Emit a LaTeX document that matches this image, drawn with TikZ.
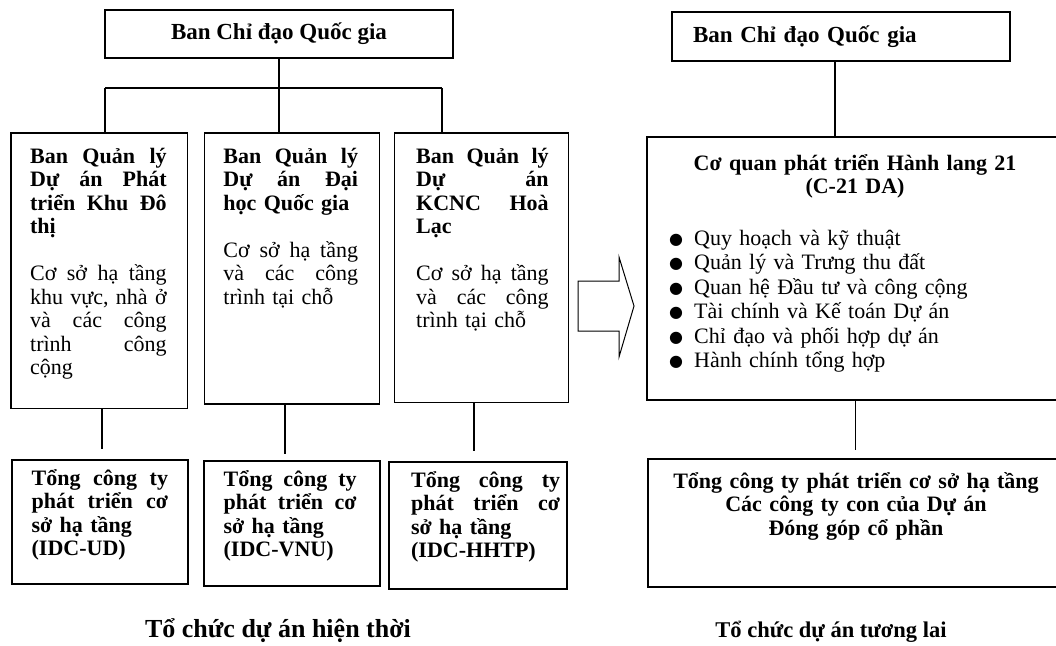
\documentclass[tikz,border=0pt]{standalone}
\usepackage{fontspec}
\setmainfont{Liberation Serif}
\newfontfamily\dotfont{DejaVu Sans}
\usetikzlibrary{positioning}
\tikzset{box/.style={draw, line width=1.1pt, inner sep=0pt},
%text blocks sit on their first baseline
txt/.style={inner sep=0pt, anchor=base west, align=left, font=\fontsize{22}{23.5}\selectfont\bfseries},
link/.style={line width=1.4pt}}
\newcommand{\dotitem}{\makebox[25pt][l]{\raisebox{1pt}{\dotfont\fontsize{16}{16}\selectfont ●}}}

\begin{document}
\begin{tikzpicture}[x=1pt,y=-1pt]
\useasboundingbox (0,0) rectangle (1056,645);
% current organisation
\node[box, minimum width=348pt, minimum height=48pt, font=\fontsize{23}{24}\selectfont\bfseries] (nat1) at (279,34) {Ban Chỉ đạo Quốc gia};
\node[box, minimum width=176.5pt, minimum height=275.5pt] (pm1) at (99.25,270.75) {};
\node[box, minimum width=175pt, minimum height=271pt] (pm2) at (292,268.5) {};
\node[box, minimum width=173.5pt, minimum height=269.5pt] (pm3) at (481.3,267.75) {};
\node[box, minimum width=176pt, minimum height=124pt] (idc1) at (100,522) {};
\node[box, minimum width=176pt, minimum height=125pt] (idc2) at (292,523.5) {};
\node[box, minimum width=178pt, minimum height=127pt] (idc3) at (478,525.5) {};

% justified lines: \hfill between the words
\node[txt, text width=136.5pt] (pm1t) at ([xshift=19.5pt,yshift=-31pt]pm1.north west)
  {Ban\hfill Quản\hfill lý\\Dự\hfill án\hfill Phát\\triển\hfill Khu\hfill Đô\\thị\\[23.5pt]
   \mdseries Cơ\hfill sở\hfill hạ\hfill tầng\\khu\hfill vực,\hfill nhà\hfill ở\\và\hfill các\hfill công\\trình\hfill công\\cộng};
\node[txt, text width=134.6pt] (pm2t) at ([xshift=19.3pt,yshift=-31pt]pm2.north west)
  {Ban\hfill Quản\hfill lý\\Dự\hfill án\hfill Đại\\học Quốc gia\\[23.5pt]
   \mdseries Cơ\hfill sở\hfill hạ\hfill tầng\\và\hfill các\hfill công\\trình tại chỗ};
\node[txt, text width=132.5pt] (pm3t) at ([xshift=22pt,yshift=-31pt]pm3.north west)
  {Ban\hfill Quản\hfill lý\\Dự\hfill án\\KCNC\hfill Hoà\\Lạc\\[23.5pt]
   \mdseries Cơ\hfill sở\hfill hạ\hfill tầng\\và\hfill các\hfill công\\trình tại chỗ};

\node[txt, text width=136.4pt] (idc1t) at ([xshift=20pt,yshift=-26pt]idc1.north west)
  {Tổng\hfill công\hfill ty\\phát\hfill triển\hfill cơ\\sở hạ tầng\\(IDC-UD)};
\node[txt, text width=133pt] (idc2t) at ([xshift=20pt,yshift=-26pt]idc2.north west)
  {Tổng\hfill công\hfill ty\\phát\hfill triển\hfill cơ\\sở hạ tầng\\(IDC-VNU)};
\node[txt, text width=149pt] (idc3t) at ([xshift=22.5pt,yshift=-26pt]idc3.north west)
  {Tổng\hfill công\hfill ty\\phát\hfill triển\hfill cơ\\sở hạ tầng\\(IDC-HHTP)};

\coordinate (busL) at (105,88);
\coordinate (busR) at (442,88);
\draw[link] (nat1.south) -- (nat1.south |- pm2.north);
\draw[link] (busL) -- (busR);
\draw[link] (busL) -- (busL |- pm1.north);
\draw[link] (busR) -- (busR |- pm3.north);
\coordinate (d1) at ([xshift=2.75pt]pm1.south);
\coordinate (d2) at ([xshift=-7pt]pm2.south);
\coordinate (d3) at ([xshift=-7.3pt]pm3.south);
\draw[link, shorten >=10pt] (d1) -- (d1 |- idc1.north);
\draw[link, shorten >=6pt] (d2) -- (d2 |- idc2.north);
\draw[link, shorten >=10pt] (d3) -- (d3 |- idc3.north);

% shift to the new set-up
\draw[line width=1pt, line join=miter] (578,281) -- (619,281) -- (619,257) -- (634,306)
  -- (619,357) -- (619,331) -- (578,331) -- cycle;

% future organisation
\node[box, minimum width=338pt, minimum height=49pt, text width=296pt, align=left, font=\fontsize{23}{24}\selectfont\bfseries] (nat2) at (841,36.5) {Ban Chỉ đạo Quốc gia};
\node[box, minimum width=415pt, minimum height=263pt] (c21) at (854.5,268.5) {};
\node[box, minimum width=414pt, minimum height=128pt] (sub) at (855,523) {};

\node[txt, anchor=base, align=center, text width=400pt] (c21t) at (855,170)
  {Cơ quan phát triển Hành lang 21\\(C-21 DA)};
\node[txt, font=\fontsize{22}{24.5}\selectfont, text width=370pt] (tasks) at (669,245)
  {\dotitem Quy hoạch và kỹ thuật\\\dotitem Quản lý và Trưng thu đất\\\dotitem Quan hệ Đầu tư và công cộng\\
   \dotitem Tài chính và Kế toán Dự án\\\dotitem Chỉ đạo và phối hợp dự án\\\dotitem Hành chính tổng hợp};
\node[txt, anchor=base, align=center, text width=400pt] (subt) at (856,488)
  {Tổng công ty phát triển cơ sở hạ tầng\\Các công ty con của Dự án\\Đóng góp cổ phần};

\coordinate (d4) at ([xshift=-6pt]nat2.south);
\coordinate (d5) at ([xshift=1pt]c21.south);
\draw[link] (d4) -- (d4 |- c21.north);
\draw[link, shorten >=8pt] (d5) -- (d5 |- sub.north);

% captions
\node[font=\fontsize{26}{28}\selectfont\bfseries, anchor=base, inner sep=0pt] (cap1) at (278,637) {Tổ chức dự án hiện thời};
\node[font=\fontsize{22.5}{25}\selectfont\bfseries, anchor=base, inner sep=0pt] (cap2) at (831,637) {Tổ chức dự án tương lai};
\end{tikzpicture}
\end{document}
